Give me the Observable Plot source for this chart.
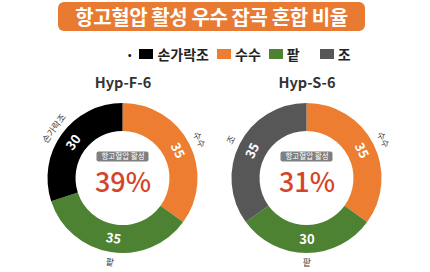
<!DOCTYPE html>
<html>
<head>
<meta charset="utf-8">
<script src="https://cdn.jsdelivr.net/npm/d3@7"></script>
<script src="https://cdn.jsdelivr.net/npm/@observablehq/plot@0.6"></script>
<style>
  html, body { margin: 0; padding: 0; background: #fff; }
  #wrap { position: relative; width: 430px; height: 272px; overflow: hidden; font-family: "Noto Sans CJK KR", "Noto Sans", sans-serif; }
  #title { position: absolute; left: 58px; top: 2px; width: 307px; height: 29px; background: #E97A31; border-radius: 6px;
           color: #fff; font-weight: bold; font-size: 20px; line-height: 29px; text-align: center; letter-spacing: -0.4px; white-space: nowrap; }
  #legendRow { position: absolute; left: 125px; top: 45px; height: 18px; display: flex; align-items: center; }
  #bullet { font-size: 16px; color: #222; margin-right: 5px; font-weight: bold; }
  #legendRow .lg-swatches { min-height: 18px !important; margin: 0 !important; font-size: 14px !important;
                  font-family: "Noto Sans CJK KR", sans-serif !important; }
  #legendRow .lg-swatch { margin-right: 8px !important; font-size: 14px !important; font-weight: bold; color: #222;
                  font-family: "Noto Sans CJK KR", sans-serif !important; }
  #legendRow .lg-swatch:nth-of-type(3) { margin-right: 20px !important; }
  #legendRow .lg-swatch > svg { margin-right: 4px !important; }
  #chart { position: absolute; left: 0; top: 66px; }
</style>
</head>
<body>
<div id="wrap">
  <div id="title">항고혈압 활성 우수 잡곡 혼합 비율</div>
  <div id="legendRow"><span id="bullet">·</span></div>
  <div id="chart"></div>
</div>
<script>
// ---- data ----
const charts = ["Hyp-F-6", "Hyp-S-6"];
const activity = [39, 31];
const activityLabel = "항고혈압 활성";
const crops = ["손가락조", "수수", "팥", "조"];
const cropColors = ["#000000", "#ED7D31", "#4E8233", "#575757"];
const fCrops = ["수수", "팥", "손가락조"];
const fValues = [35, 35, 30];
const sCrops = ["수수", "팥", "조"];
const sValues = [35, 30, 35];

// ---- layout constants (style) ----
const W = 430, H = 206;
const CX0 = 122.5, GAP = 184, CY = 112;
const R_OUT = 75, R_IN = 47, R_LAB = 61, R_OUT_LAB = 85;

const color = Plot.scale({color: {type: "ordinal", domain: crops, range: cropColors}});

// build segments table from arrays
const series = [[fCrops, fValues], [sCrops, sValues]];
const segments = [];
series.forEach(([cs, vs], i) => {
  const rows = cs.map((c, k) => ({crop: c, value: vs[k]}));
  const pie = d3.pie().sort(null).value(d => d.value)(rows);
  pie.forEach(p => {
    const mid = (p.startAngle + p.endAngle) / 2;
    let deg = mid * 180 / Math.PI;
    let rot = deg > 90 && deg < 270 ? deg - 180 : (deg >= 270 ? deg - 360 : deg);
    segments.push({chart: charts[i], idx: i, crop: p.data.crop, value: p.data.value,
                   start: p.startAngle, end: p.endAngle, mid, rot});
  });
});
const centers = charts.map((c, i) => ({chart: c, idx: i, pct: activity[i]}));

const U = v => v / GAP; // px -> units

const arcMark = (index, scales) => {
  const g = d3.create("svg:g");
  const arc = d3.arc().innerRadius(R_IN).outerRadius(R_OUT);
  g.selectAll("path").data(segments).join("path")
    .attr("transform", d => `translate(${scales.x(d.idx)},${scales.y(0)})`)
    .attr("d", d => arc({startAngle: d.start, endAngle: d.end}))
    .attr("fill", d => color.apply(d.crop));
  return g.node();
};

const FONT = "Noto Sans CJK KR";
const plot = Plot.plot({
  width: W, height: H,
  margin: 0,
  style: {background: "transparent", fontFamily: FONT},
  x: {domain: [-CX0 / GAP, (W - CX0) / GAP], range: [0, W], axis: null},
  y: {domain: [-CY / GAP, (H - CY) / GAP], range: [0, H], axis: null},
  marks: [
    arcMark,
    // chart titles
    Plot.text(centers, {x: "idx", frameAnchor: "top", dy: 11, text: "chart", fontSize: 14.5, fontWeight: "bold",
      fill: "#333", fontFamily: FONT, style: "letter-spacing:-1.6px"}),
    // inner value labels
    Plot.text(segments, {x: d => d.idx + U(R_LAB) * Math.sin(d.mid), y: d => -U(R_LAB) * Math.cos(d.mid),
      text: d => String(d.value), rotate: "rot", fill: "#fff", fontSize: 13, fontWeight: "bold", fontFamily: FONT}),
    // outer category labels
    Plot.text(segments, {x: d => d.idx + U(R_OUT_LAB) * Math.sin(d.mid), y: d => -U(R_OUT_LAB) * Math.cos(d.mid),
      text: "crop", rotate: "rot", fill: "#444", fontSize: 9, fontFamily: FONT}),
    // center gray box
    Plot.rect(centers, {x1: d => d.idx - U(26), x2: d => d.idx + U(26), y1: U(-26.5), y2: U(-16.5), fill: "#7F7F7F", rx: 2}),
    Plot.text(centers, {x: "idx", y: U(-21.5), text: () => activityLabel, fill: "#fff", fontSize: 7.5, fontFamily: FONT}),
    // center percent
    Plot.text(centers, {x: "idx", y: U(5), text: d => d.pct + "%", fill: "#D5452B", fontSize: 27, fontWeight: 500, fontFamily: FONT})
  ]
});
document.getElementById("chart").appendChild(plot);

const legend = Plot.legend({color: {type: "ordinal", domain: crops, range: cropColors}, swatchWidth: 14, swatchHeight: 10, className: "lg"});
document.getElementById("legendRow").appendChild(legend);
</script>
</body>
</html>
